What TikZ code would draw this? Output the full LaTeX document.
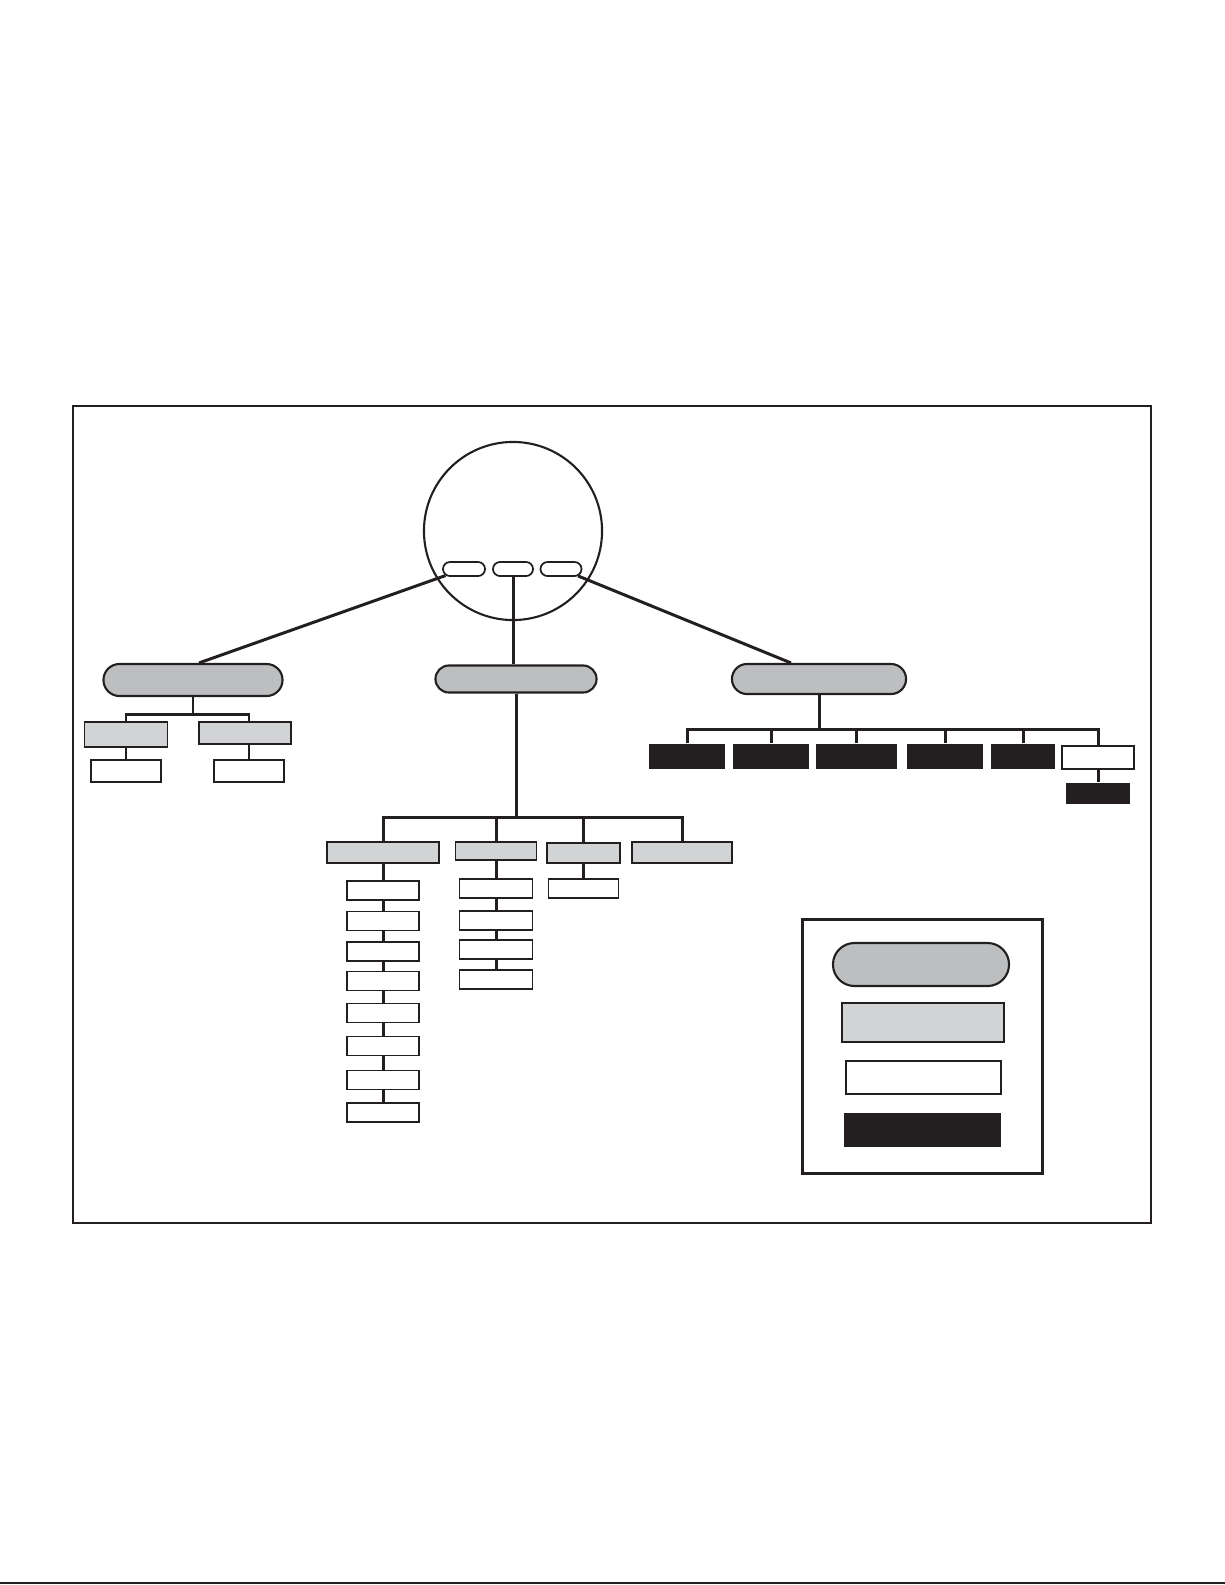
\documentclass[tikz,border=0pt]{standalone}
\usetikzlibrary{shapes.misc}

\definecolor{ink}{RGB}{35,31,32}
\definecolor{ovalgray}{RGB}{188,190,192}
\definecolor{boxgray}{RGB}{209,211,212}

\tikzset{
  pill/.style={rounded rectangle, draw, fill=ovalgray, line width=0.6pt, inner sep=0pt},
  minipill/.style={rounded rectangle, draw, fill=white, line width=0.5pt, inner sep=0pt,
    minimum height=0.14cm},
  greybox/.style={rectangle, draw, fill=boxgray, line width=0.55pt, inner sep=0pt},
  whitebox/.style={rectangle, draw, fill=white, line width=0.55pt, inner sep=0pt},
  blackbox/.style={rectangle, fill=ink, inner sep=0pt},
  conn/.style={line width=0.85pt}
}

\begin{document}
\begin{tikzpicture}[x=0.01cm, y=-0.01cm, color=ink]
  \useasboundingbox (0,0) rectangle (1225,1585);

  % frame and page rule
  \draw[line width=0.6pt] (73,406) rectangle (1151,1223);
  \draw[line width=0.6pt] (0,1583) -- (1225,1583);

  % top circle
  \node[circle, draw, line width=0.6pt, minimum size=1.78cm, inner sep=0pt] (dial) at (513,531) {};
  \node[minipill, minimum width=0.42cm] (p1) at (464,569) {};
  \node[minipill, minimum width=0.40cm] (p2) at (513,569) {};
  \node[minipill, minimum width=0.41cm] (p3) at (561,569) {};

  % main ovals
  \node[pill, minimum width=1.79cm, minimum height=0.32cm] (lo) at (193,680) {};
  \node[pill, minimum width=1.61cm, minimum height=0.27cm] (mo) at (516,679) {};
  \node[pill, minimum width=1.74cm, minimum height=0.30cm] (ro) at (819,679) {};

  \draw[conn] ([xshift=0.06cm]lo.north) -- (p1);
  \draw[conn] (p2.south) -- (p2.south |- mo.north);
  \draw[conn] ([xshift=-0.28cm]ro.north) -- (p3);

  % left branch
  \coordinate (lbus) at (193,714);
  \node[greybox, minimum width=0.83cm, minimum height=0.25cm] (ga1) at (126,734.5) {};
  \node[greybox, minimum width=0.92cm, minimum height=0.22cm] (ga2) at (245,733) {};
  \node[whitebox, minimum width=0.70cm, minimum height=0.22cm] (wa1) at (126,771) {};
  \node[whitebox, minimum width=0.70cm, minimum height=0.22cm] (wa2) at (249,771) {};
  \draw[conn] (lo.south) -- (lbus);
  \draw[conn] (ga1.north) |- (lbus) -| (ga2.north -| wa2.north);
  \draw[conn] (ga1.south) -- (wa1.north);
  \draw[conn] (ga2.south -| wa2.north) -- (wa2.north);

  % middle branch
  \coordinate (mbus) at (513,817);
  \node[greybox, minimum width=1.12cm, minimum height=0.21cm] (gA) at (383,852.5) {};
  \node[greybox, minimum width=0.81cm, minimum height=0.18cm] (gB) at (496,851) {};
  \node[greybox, minimum width=0.73cm, minimum height=0.20cm] (gC) at (583.5,853) {};
  \node[greybox, minimum width=1.00cm, minimum height=0.21cm] (gD) at (682,852.5) {};
  \draw[conn] (mo.south) -- (mo.south |- mbus);
  \draw[conn] (gA.north) |- (mbus) -| (gD.north);
  \draw[conn] (gB.north) -- (gB.north |- mbus);
  \draw[conn] (gC.north) -- (gC.north |- mbus);

  \foreach \i/\y in {1/890.5, 2/921, 3/951.5, 4/981, 5/1013, 6/1046, 7/1080, 8/1112.5}
    \node[whitebox, minimum width=0.72cm, minimum height=0.19cm] (a\i) at (383,\y) {};
  \draw[conn] (gA.south) -- (a1.north);
  \foreach \i/\j in {1/2, 2/3, 3/4, 4/5, 5/6, 6/7, 7/8}
    \draw[conn] (a\i.south) -- (a\j.north);

  \foreach \i/\y in {1/888.5, 2/920.5, 3/949.5, 4/979.5}
    \node[whitebox, minimum width=0.73cm, minimum height=0.19cm] (b\i) at (496,\y) {};
  \draw[conn] (gB.south) -- (b1.north);
  \foreach \i/\j in {1/2, 2/3, 3/4}
    \draw[conn] (b\i.south) -- (b\j.north);

  \node[whitebox, minimum width=0.70cm, minimum height=0.19cm] (c1) at (583.5,888.5) {};
  \draw[conn] (gC.south) -- (c1.north);

  % right branch
  \coordinate (rbus) at (816,729);
  \node[blackbox, minimum width=0.76cm, minimum height=0.25cm] (k1) at (687,756.5) {};
  \node[blackbox, minimum width=0.75cm, minimum height=0.25cm] (k2) at (771,756.5) {};
  \node[blackbox, minimum width=0.81cm, minimum height=0.25cm] (k3) at (856.5,756.5) {};
  \node[blackbox, minimum width=0.76cm, minimum height=0.25cm] (k4) at (945,756.5) {};
  \node[blackbox, minimum width=0.64cm, minimum height=0.25cm] (k5) at (1023,756.5) {};
  \node[whitebox, minimum width=0.72cm, minimum height=0.23cm] (wr) at (1098,757.5) {};
  \node[blackbox, minimum width=0.63cm, minimum height=0.21cm] (kr) at (1098,793.5) {};
  \draw[conn] (ro.south) -- (ro.south |- rbus);
  \draw[conn] (k1.north) |- (rbus) -| (wr.north);
  \foreach \k in {k2,k3,k4,k5}
    \draw[conn] (\k.north) -- (\k.north |- rbus);
  \draw[conn] (wr.south) -- (kr.north);

  % key
  \draw[line width=0.85pt] (802,919) rectangle (1042,1173);
  \node[pill, minimum width=1.76cm, minimum height=0.43cm] (kpill) at (921,964.5) {};
  \node[greybox, line width=0.7pt, minimum width=1.62cm, minimum height=0.39cm] (kgrey) at (923,1022.5) {};
  \node[whitebox, line width=0.7pt, minimum width=1.55cm, minimum height=0.33cm] (kwhite) at (923.5,1077.5) {};
  \node[blackbox, minimum width=1.57cm, minimum height=0.34cm] (kblack) at (922.5,1130) {};
\end{tikzpicture}
\end{document}
